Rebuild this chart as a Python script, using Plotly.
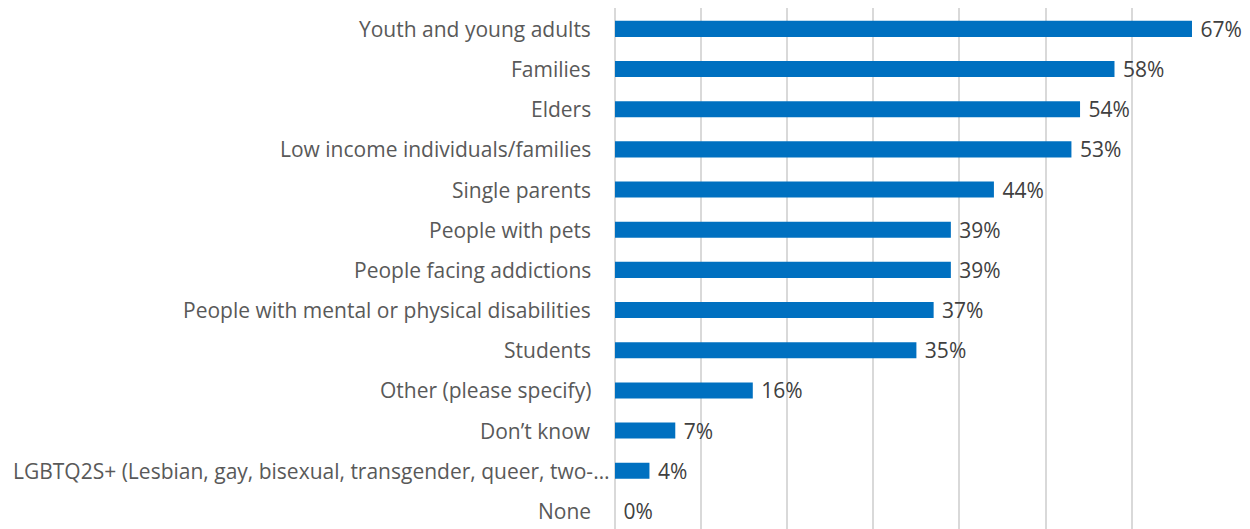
import plotly.graph_objects as go

# Survey responses: share of respondents per group (percent)
categories = [
    "Youth and young adults",
    "Families",
    "Elders",
    "Low income individuals/families",
    "Single parents",
    "People with pets",
    "People facing addictions",
    "People with mental or physical disabilities",
    "Students",
    "Other (please specify)",
    "Don\u2019t know",
    "LGBTQ2S+ (Lesbian, gay, bisexual, transgender, queer, two-\u2026",
    "None",
]
values = [67, 58, 54, 53, 44, 39, 39, 37, 35, 16, 7, 4, 0]

FONT = "Open Sans"
SIZE = 21

fig = go.Figure(
    go.Bar(
        y=categories,
        x=values,
        orientation="h",
        marker=dict(color="#0070C0", line=dict(width=0)),
        width=0.4,
        texttemplate=" %{x}%",
        textposition="outside",
        constraintext="none",
        textfont=dict(family=FONT, size=SIZE, color="#404040"),
        cliponaxis=False,
    )
)

# Category labels drawn as right-aligned text beside the axis; the truncated
# long label sits closer to the axis.
for cat in categories:
    truncated = cat.endswith("\u2026")
    fig.add_annotation(
        x=0, xref="paper", y=cat, yref="y",
        text=cat, showarrow=False,
        xanchor="right", yanchor="middle",
        xshift=-4 if truncated else -22,
        font=dict(family=FONT, size=SIZE, color="#595959"),
    )

fig.update_layout(
    width=1250,
    height=529,
    margin=dict(l=615, r=32, t=8, b=0),
    paper_bgcolor="white",
    plot_bgcolor="white",
    showlegend=False,
    font=dict(family=FONT, size=SIZE, color="#595959"),
    xaxis=dict(
        range=[0, 70.02],
        dtick=10,
        showticklabels=False,
        showgrid=True,
        gridcolor="#D9D9D9",
        gridwidth=1.5,
        zeroline=True,
        zerolinecolor="#D9D9D9",
        zerolinewidth=1.5,
        showline=False,
        automargin=False,
    ),
    yaxis=dict(
        categoryorder="array",
        categoryarray=categories,
        range=[12.45, -0.52],
        showgrid=False,
        zeroline=False,
        showline=False,
        ticks="",
        showticklabels=False,
        automargin=False,
    ),
)

fig.write_html("out.html")
